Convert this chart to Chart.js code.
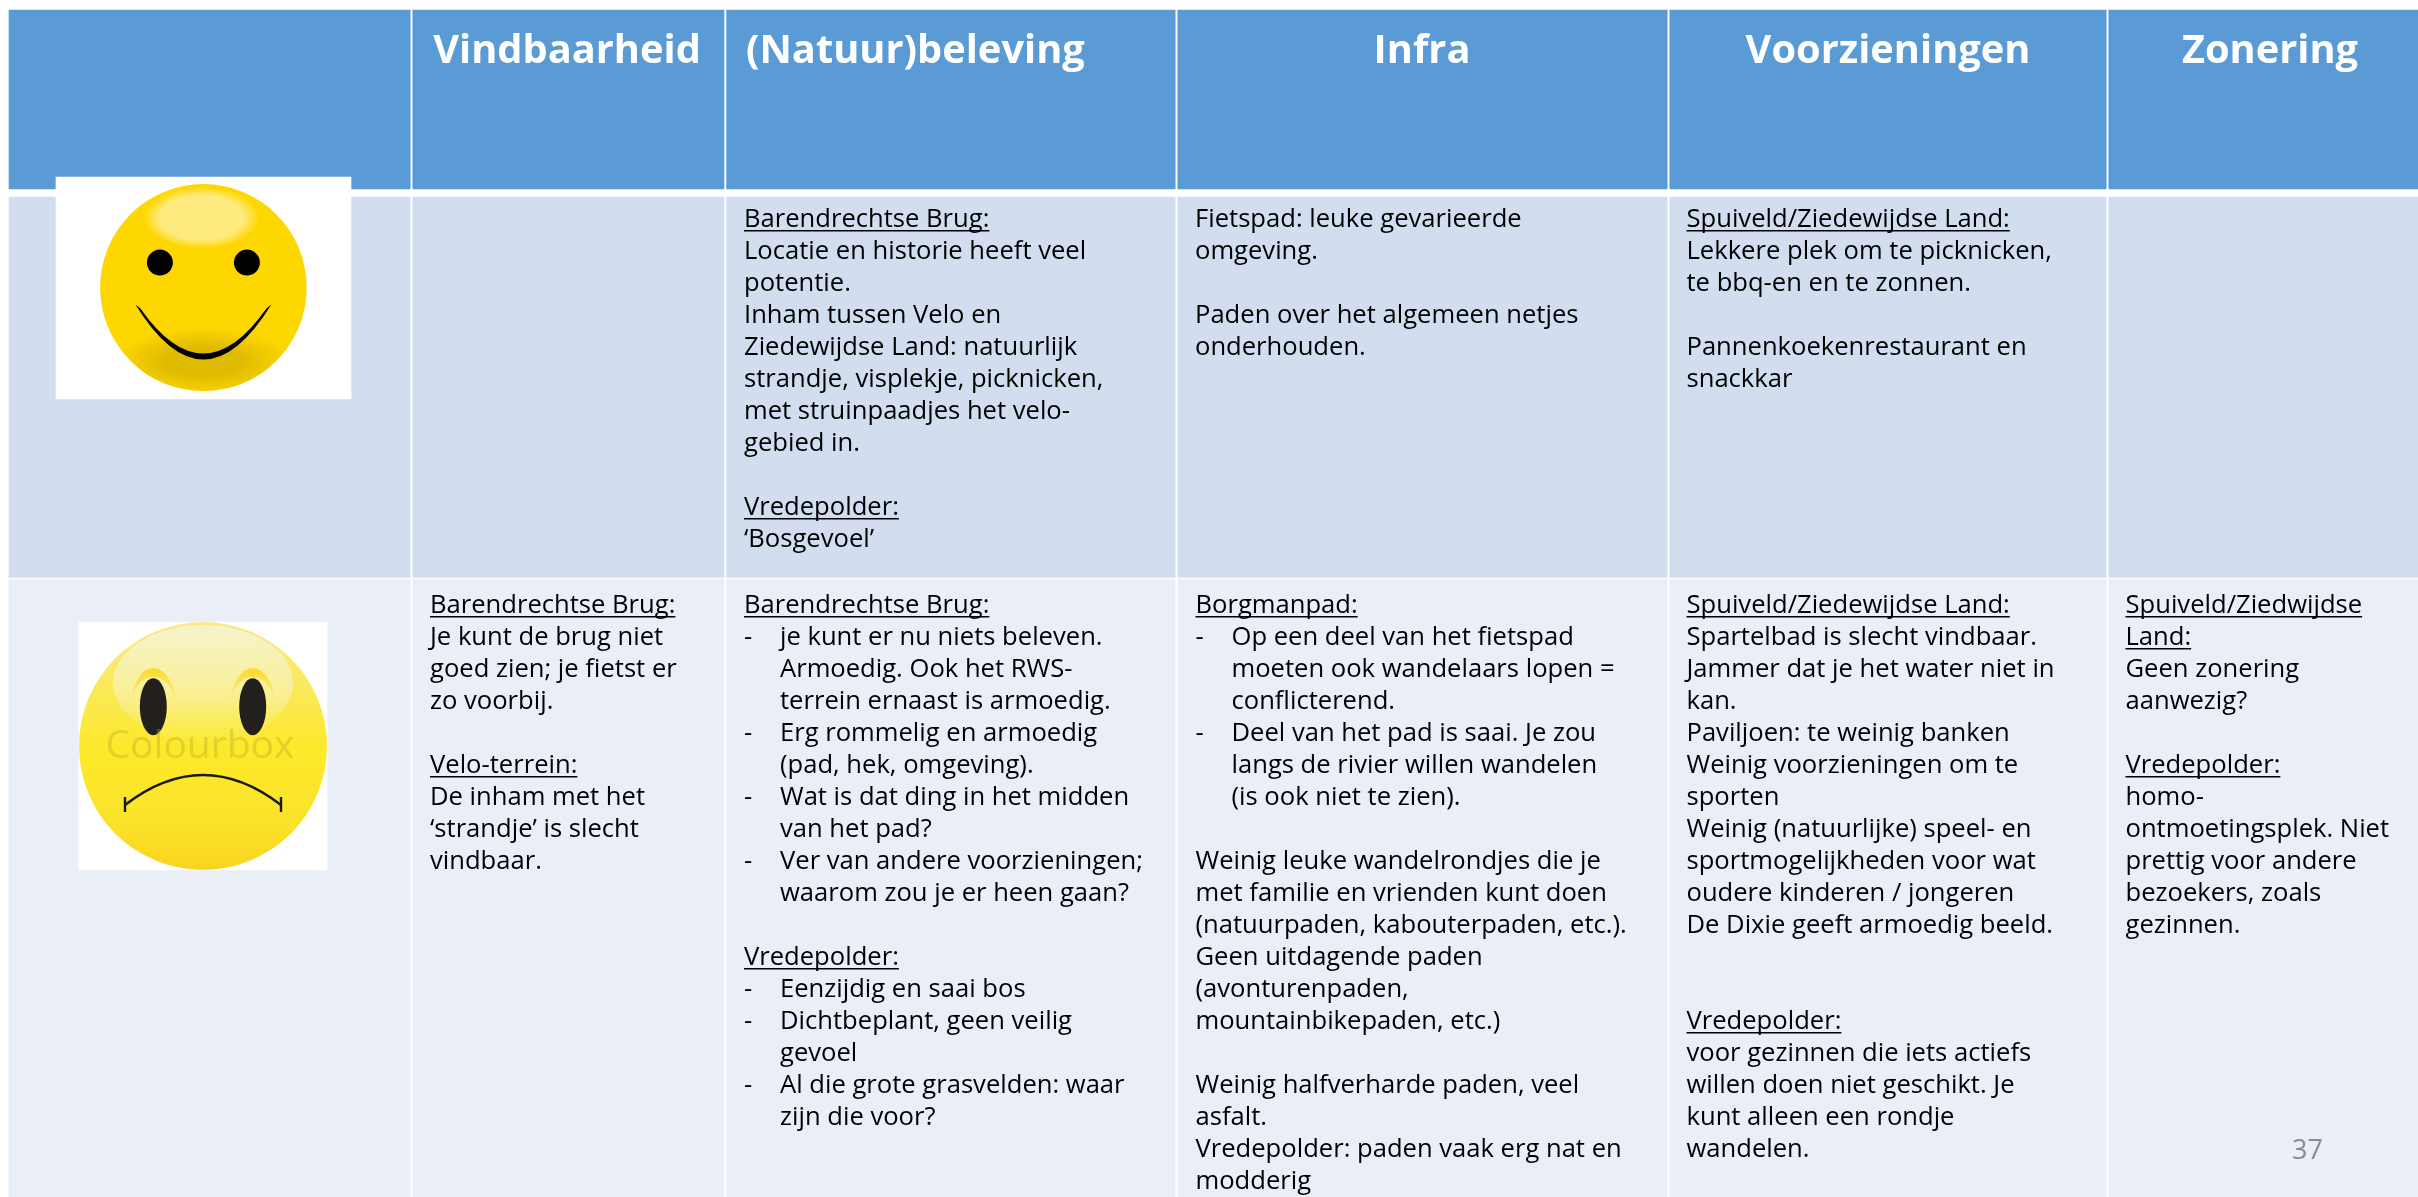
<!DOCTYPE html>
<html>
<head>
<meta charset="utf-8">
<title>Beleving tabel</title>
<script src="https://cdn.jsdelivr.net/npm/chart.js@4"></script>
<style>
html,body{margin:0;padding:0;background:#fff;overflow:hidden}
canvas{display:block}
</style>
</head>
<body>
<canvas id="myChart" width="2418" height="1197"></canvas>
<script>
// kolommen en rijen van de tabel (in beeldeenheden op de assen)
const columnEdges = [9, 411.5, 725.3, 1176.5, 1668.5, 2107.5, 2418];
const rowEdges = [[10, 189], [197, 577.5], [579.5, 1197]];
const happyBox = [56, 351, 177, 399];
const sadBox = [79, 327, 622, 870];

const headers = ["", "Vindbaarheid", "(Natuur)beleving", "Infra", "Voorzieningen", "Zonering"];
const pageNumber = "37";
const watermark = "Colourbox";

// regels die onderstreept zijn
const underlined = ["Barendrechtse Brug:", "Vredepolder:", "Spuiveld/Ziedewijdse Land:", "Velo-terrein:", "Borgmanpad:", "Spuiveld/Ziedwijdse", "Land:"];

const row1col3 = ["Barendrechtse Brug:", "Locatie en historie heeft veel", "potentie.", "Inham tussen Velo en", "Ziedewijdse Land: natuurlijk", "strandje, visplekje, picknicken,", "met struinpaadjes het velo-", "gebied in.", "", "Vredepolder:", "‘Bosgevoel’"];
const row1col4 = ["Fietspad: leuke gevarieerde", "omgeving.", "", "Paden over het algemeen netjes", "onderhouden."];
const row1col5 = ["Spuiveld/Ziedewijdse Land:", "Lekkere plek om te picknicken,", "te bbq-en en te zonnen.", "", "Pannenkoekenrestaurant en", "snackkar"];

const row2col2 = ["Barendrechtse Brug:", "Je kunt de brug niet", "goed zien; je fietst er", "zo voorbij.", "", "Velo-terrein:", "De inham met het", "‘strandje’ is slecht", "vindbaar."];
const row2col3 = ["Barendrechtse Brug:", "- je kunt er nu niets beleven.", "  Armoedig. Ook het RWS-", "  terrein ernaast is armoedig.", "- Erg rommelig en armoedig", "  (pad, hek, omgeving).", "- Wat is dat ding in het midden", "  van het pad?", "- Ver van andere voorzieningen;", "  waarom zou je er heen gaan?", "", "Vredepolder:", "- Eenzijdig en saai bos", "- Dichtbeplant, geen veilig", "  gevoel", "- Al die grote grasvelden: waar", "  zijn die voor?"];
const row2col4 = ["Borgmanpad:", "- Op een deel van het fietspad", "  moeten ook wandelaars lopen =", "  conflicterend.", "- Deel van het pad is saai. Je zou", "  langs de rivier willen wandelen", "  (is ook niet te zien).", "", "Weinig leuke wandelrondjes die je", "met familie en vrienden kunt doen", "(natuurpaden, kabouterpaden, etc.).", "Geen uitdagende paden", "(avonturenpaden,", "mountainbikepaden, etc.)", "", "Weinig halfverharde paden, veel", "asfalt.", "Vredepolder: paden vaak erg nat en", "modderig"];
const row2col5 = ["Spuiveld/Ziedewijdse Land:", "Spartelbad is slecht vindbaar.", "Jammer dat je het water niet in", "kan.", "Paviljoen: te weinig banken", "Weinig voorzieningen om te", "sporten", "Weinig (natuurlijke) speel- en", "sportmogelijkheden voor wat", "oudere kinderen / jongeren", "De Dixie geeft armoedig beeld.", "", "", "Vredepolder:", "voor gezinnen die iets actiefs", "willen doen niet geschikt. Je", "kunt alleen een rondje", "wandelen."];
const row2col6 = ["Spuiveld/Ziedwijdse", "Land:", "Geen zonering", "aanwezig?", "", "Vredepolder:", "homo-", "ontmoetingsplek. Niet", "prettig voor andere", "bezoekers, zoals", "gezinnen."];

const FONT = '"Open Sans"';
const GAP = 1.3;

function cellBars(r) {
    const y = (rowEdges[r][0] + rowEdges[r][1]) / 2;
    const out = [];
    for (let c = 0; c < columnEdges.length - 1; c++) {
        const a = c == 0 ? columnEdges[c] : columnEdges[c] + GAP;
        const b = c == columnEdges.length - 2 ? columnEdges[c + 1] : columnEdges[c + 1] - GAP;
        out.push({x: [a, b], y: y});
    }
    return out;
}
function boxBar(box) {
    return {
        data: [{x: [box[0], box[1]], y: (box[2] + box[3]) / 2}],
        backgroundColor: "#ffffff",
        barThickness: box[3] - box[2],
        grouped: false
    };
}
function rowSet(r, color) {
    return {
        data: cellBars(r),
        backgroundColor: color,
        barThickness: rowEdges[r][1] - rowEdges[r][0],
        grouped: false
    };
}

function drawBlock(ctx, chart, lines, x, y0) {
    const sx = chart.scales.x, sy = chart.scales.y;
    ctx.font = "25.6px " + FONT;
    ctx.fillStyle = "#000";
    ctx.textAlign = "left";
    ctx.textBaseline = "alphabetic";
    lines.forEach(function (line, i) {
        if (line === "") return;
        const py = sy.getPixelForValue(y0 + i * 32);
        let px = sx.getPixelForValue(x);
        let txt = line;
        if (line.startsWith("- ")) {
            ctx.fillText("-", px, py);
            px += 36;
            txt = line.substring(2);
        } else if (line.startsWith("  ")) {
            px += 36;
            txt = line.substring(2);
        }
        ctx.fillText(txt, px, py);
        if (underlined.includes(line)) {
            const w = ctx.measureText(txt).width;
            ctx.fillRect(px, py + 3, w, 1.5);
        }
    });
}

function ell(ctx, x, y, rx, ry) {
    ctx.beginPath();
    ctx.ellipse(x, y, rx, ry, 0, 0, Math.PI * 2);
}
function glow(ctx, x, y, rx, ry, inner, outer, stop) {
    ctx.save();
    ctx.translate(x, y);
    ctx.scale(rx, ry);
    const g = ctx.createRadialGradient(0, 0, 0, 0, 0, 1);
    g.addColorStop(0, inner);
    g.addColorStop(stop, inner);
    g.addColorStop(1, outer);
    ctx.fillStyle = g;
    ctx.beginPath();
    ctx.arc(0, 0, 1, 0, Math.PI * 2);
    ctx.fill();
    ctx.restore();
}

function drawHappy(ctx, cx, cy) {
    ctx.save();
    ell(ctx, cx, cy, 103.3, 103.5);
    ctx.fillStyle = "#FFD700";
    ctx.fill();
    ctx.clip();
    glow(ctx, cx, cy + 74, 90, 34, "rgba(222,186,0,1)", "rgba(222,186,0,0)", 0.4);
    glow(ctx, cx - 2, cy - 70, 58, 31, "rgba(255,234,125,1)", "rgba(255,234,125,0)", 0.72);
    ctx.restore();
    ctx.fillStyle = "#000";
    ell(ctx, cx - 43.5, cy - 25, 13, 13); ctx.fill();
    ell(ctx, cx + 43.5, cy - 25, 13, 13); ctx.fill();
    // mond
    ctx.beginPath();
    ctx.moveTo(cx - 68, cy + 17);
    ctx.lineTo(cx - 63, cy + 21);
    ctx.quadraticCurveTo(cx, cy + 111, cx + 63, cy + 21);
    ctx.lineTo(cx + 68, cy + 17);
    ctx.quadraticCurveTo(cx, cy + 127, cx - 68, cy + 17);
    ctx.closePath();
    ctx.fill();
}

function crescent(ctx, x, y, rx, outerRy, innerRy) {
    const g = ctx.createLinearGradient(0, y - outerRy, 0, y);
    g.addColorStop(0, "rgba(251,218,40,1)");
    g.addColorStop(1, "rgba(251,225,90,0.2)");
    ctx.fillStyle = g;
    ctx.beginPath();
    ctx.ellipse(x, y, rx, outerRy, 0, Math.PI, Math.PI * 2);
    ctx.ellipse(x, y, rx, innerRy, 0, Math.PI * 2, Math.PI, true);
    ctx.closePath();
    ctx.fill();
}

function drawSad(ctx, cx, cy) {
    ctx.save();
    ell(ctx, cx, cy, 124, 124);
    const g = ctx.createLinearGradient(0, cy - 124, 0, cy + 124);
    g.addColorStop(0, "#F8E98A");
    g.addColorStop(0.35, "#FBE94A");
    g.addColorStop(0.5, "#FDE92B");
    g.addColorStop(0.8, "#FBE32A");
    g.addColorStop(1, "#F9D41F");
    ctx.fillStyle = g;
    ctx.fill();
    ctx.clip();
    const h = ctx.createLinearGradient(0, cy - 121, 0, cy - 5);
    h.addColorStop(0, "rgba(246,243,205,1)");
    h.addColorStop(0.6, "rgba(249,241,160,0.85)");
    h.addColorStop(1, "rgba(250,238,110,0.1)");
    ell(ctx, cx, cy - 63, 90, 58);
    ctx.fillStyle = h;
    ctx.fill();
    ctx.restore();
    // wenkbrauwen
    crescent(ctx, cx - 49.7, cy - 38, 22.7, 40, 31);
    crescent(ctx, cx + 49.7, cy - 38, 22.7, 40, 31);
    ctx.fillStyle = "#221f1c";
    ell(ctx, cx - 49.7, cy - 39.3, 13.5, 28.5); ctx.fill();
    ell(ctx, cx + 49.7, cy - 39.3, 13.5, 28.5); ctx.fill();
    // watermerk
    ctx.fillStyle = "rgba(175,165,40,0.36)";
    ctx.font = "39px " + FONT;
    ctx.textAlign = "center";
    ctx.fillText(watermark, cx - 3, cy + 12);
    // mond
    ctx.strokeStyle = "#1a1a10";
    ctx.lineWidth = 2.6;
    ctx.beginPath();
    ctx.moveTo(cx - 78, cy + 59);
    ctx.quadraticCurveTo(cx, cy - 1, cx + 78, cy + 59);
    ctx.stroke();
    ctx.lineWidth = 2.4;
    ctx.beginPath();
    ctx.moveTo(cx - 78, cy + 51); ctx.lineTo(cx - 78, cy + 66);
    ctx.moveTo(cx + 78, cy + 51); ctx.lineTo(cx + 78, cy + 66);
    ctx.stroke();
}

const tablePlugin = {
    id: "tablePlugin",
    afterDraw: function (chart) {
        const ctx = chart.ctx;
        const sx = chart.scales.x, sy = chart.scales.y;
        ctx.save();

        drawHappy(ctx, sx.getPixelForValue(203.4), sy.getPixelForValue(287.6));
        drawSad(ctx, sx.getPixelForValue(203), sy.getPixelForValue(746));

        // koppen
        ctx.fillStyle = "#fff";
        ctx.font = "bold 39.8px " + FONT;
        ctx.textBaseline = "alphabetic";
        ctx.textAlign = "center";
        ctx.fillText(headers[1], sx.getPixelForValue(567), sy.getPixelForValue(62.5));
        ctx.textAlign = "left";
        ctx.fillText(headers[2], sx.getPixelForValue(746), sy.getPixelForValue(62.5));
        ctx.textAlign = "center";
        ctx.fillText(headers[3], sx.getPixelForValue(1422), sy.getPixelForValue(62.5));
        ctx.fillText(headers[4], sx.getPixelForValue(1888), sy.getPixelForValue(62.5));
        ctx.fillText(headers[5], sx.getPixelForValue(2270), sy.getPixelForValue(62.5));

        // celteksten
        drawBlock(ctx, chart, row1col3, 744, 227);
        drawBlock(ctx, chart, row1col4, 1195, 227);
        drawBlock(ctx, chart, row1col5, 1686.5, 227);
        drawBlock(ctx, chart, row2col2, 430, 613);
        drawBlock(ctx, chart, row2col3, 744, 613);
        drawBlock(ctx, chart, row2col4, 1195.5, 613);
        drawBlock(ctx, chart, row2col5, 1686.5, 613);
        drawBlock(ctx, chart, row2col6, 2125.5, 613);

        // paginanummer
        ctx.fillStyle = "#8b8b8b";
        ctx.font = "27px " + FONT;
        ctx.textAlign = "left";
        ctx.fillText(pageNumber, sx.getPixelForValue(2292), sy.getPixelForValue(1159));
        ctx.restore();
    }
};

new Chart("myChart", {
    type: "bar",
    data: {
        datasets: [
            boxBar(happyBox),
            boxBar(sadBox),
            rowSet(0, "#5B9BD5"),
            rowSet(1, "#D2DEEF"),
            rowSet(2, "#EAEFF7")
        ]
    },
    options: {
        indexAxis: "y",
        responsive: false,
        animation: false,
        layout: {padding: 0},
        plugins: {legend: {display: false}, tooltip: {enabled: false}, title: {display: false}},
        scales: {
            x: {type: "linear", min: 0, max: 2418, display: false, stacked: false},
            y: {type: "linear", min: 0, max: 1197, reverse: true, display: false, offset: false}
        }
    },
    plugins: [tablePlugin]
});
</script>
</body>
</html>
